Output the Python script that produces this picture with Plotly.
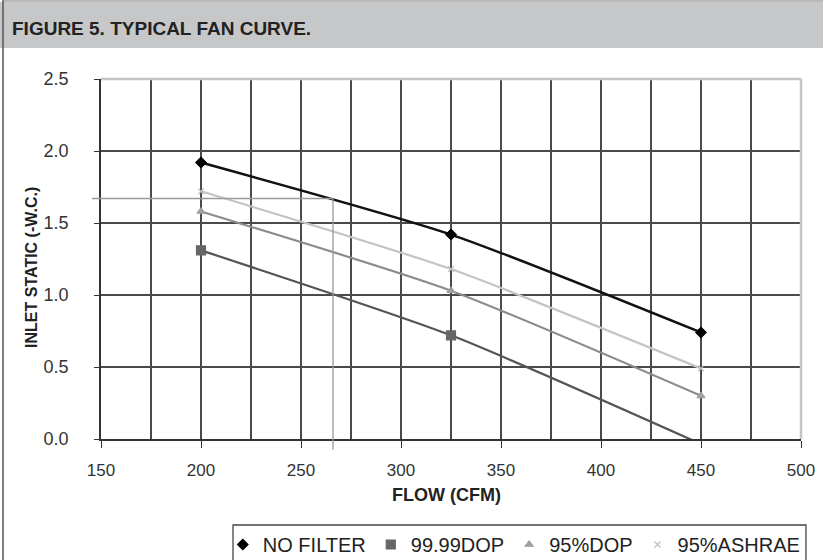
import plotly.graph_objects as go

# ---- data ----
flow = [200, 325, 450]
no_filter = [1.92, 1.42, 0.74]
dop_9999 = [1.31, 0.72, -0.035]
dop_95 = [1.58, 1.03, 0.30]
ashrae_95 = [1.72, 1.18, 0.49]
series_names = ["NO FILTER", "99.99DOP", "95%DOP", "95%ASHRAE"]
op_flow = 266
op_static = 1.67
x_range = [150, 500]
y_range = [0, 2.5]

SANS = "Liberation Sans, Arial, sans-serif"

fig = go.Figure()

styles = [
    dict(color="#111111", width=2.4, symbol="diamond", msize=8, mcolor="#000000"),
    dict(color="#555555", width=2.2, symbol="square", msize=9, mcolor="#666666"),
    dict(color="#8c8c8c", width=2.2, symbol="triangle-up", msize=7, mcolor="#a0a0a0"),
    dict(color="#c4c4c4", width=2.2, symbol="x-thin", msize=6, mcolor="#bdbdbd"),
]
all_series = [no_filter, dop_9999, dop_95, ashrae_95]
for name, ys, st in zip(series_names, all_series, styles):
    fig.add_trace(go.Scatter(
        x=flow, y=ys, name=name, mode="lines", showlegend=False,
        line=dict(color=st["color"], width=st["width"], shape="spline", smoothing=0.6),
        hoverinfo="skip",
    ))
for name, ys, st in zip(series_names, all_series, styles):
    fig.add_trace(go.Scatter(
        x=flow, y=ys, name=name, mode="markers",
        marker=dict(symbol=st["symbol"], size=st["msize"], color=st["mcolor"],
                    line=dict(color=st["mcolor"], width=1.2)),
    ))

fx = (op_flow - x_range[0]) / (x_range[1] - x_range[0])
fy = (op_static - y_range[0]) / (y_range[1] - y_range[0])

shapes = [
    # title band
    dict(type="rect", xref="paper", yref="paper", x0=-0.145, x1=1.04, y0=1.0861, y1=1.2139,
         fillcolor="#c6c7c9", line=dict(width=0), layer="below"),
    # outer frame (left and top)
    dict(type="line", xref="paper", yref="paper", x0=-0.1400, x1=-0.1400, y0=-0.40, y1=1.2194,
         line=dict(color="#555555", width=1.5)),
    dict(type="line", xref="paper", yref="paper", x0=-0.1400, x1=1.04, y0=1.2166, y1=1.2166,
         line=dict(color="#777777", width=1.2)),
    # light top / right plot border
    dict(type="line", xref="x domain", yref="y domain", x0=0, x1=1, y0=1, y1=1,
         line=dict(color="#c4c4c4", width=2.5), layer="above"),
    dict(type="line", xref="x domain", yref="y domain", x0=1, x1=1, y0=0, y1=1,
         line=dict(color="#c4c4c4", width=2.5), layer="above"),
    # operating point lines
    dict(type="line", xref="x domain", yref="y domain", x0=-0.013, x1=fx, y0=fy, y1=fy,
         line=dict(color="#9a9a9a", width=1.3)),
    dict(type="line", xref="x domain", yref="y domain", x0=fx, x1=fx, y0=-0.03, y1=fy,
         line=dict(color="#9a9a9a", width=1.3)),
    # legend box
    dict(type="rect", xref="paper", yref="paper", x0=0.1886, x1=1.0071, y0=-0.45, y1=-0.2389,
         line=dict(color="#444444", width=1.3), fillcolor="rgba(0,0,0,0)"),
]

annotations = [
    dict(text="<b>FIGURE 5. TYPICAL FAN CURVE.</b>", xref="paper", yref="paper",
         x=-0.1300, y=1.1389, xanchor="left", yanchor="middle", showarrow=False,
         font=dict(family=SANS, size=19, color="#222222")),
    dict(text="<b>INLET STATIC (-W.C.)</b>", xref="paper", yref="paper",
         x=-0.0986, y=0.478, textangle=-90, xanchor="center", yanchor="middle",
         showarrow=False, font=dict(family=SANS, size=16, color="#222222")),
    dict(text="<b>FLOW (CFM)</b>", xref="paper", yref="paper",
         x=0.493, y=-0.1556, xanchor="center", yanchor="middle",
         showarrow=False, font=dict(family=SANS, size=18, color="#222222")),
]

fig.update_layout(
    width=823, height=560,
    paper_bgcolor="white", plot_bgcolor="white",
    margin=dict(l=101, r=22, t=79, b=121, autoexpand=False),
    shapes=shapes, annotations=annotations,
    showlegend=True,
    legend=dict(orientation="h", x=0.174, y=-0.2389, xanchor="left", yanchor="top",
                font=dict(family=SANS, size=20, color="#222222"),
                bgcolor="rgba(0,0,0,0)", borderwidth=0, itemwidth=30,
                traceorder="normal"),
    xaxis=dict(range=x_range, tick0=150, dtick=50, showline=True, linecolor="#333333",
               linewidth=1.5, ticks="outside", ticklen=7, tickcolor="#333333", tickwidth=1.3,
               showgrid=True, gridcolor="#4a4a4a", gridwidth=1.5, zeroline=False,
               minor=dict(dtick=25, showgrid=True, gridcolor="#4a4a4a", gridwidth=1.5),
               tickfont=dict(family=SANS, size=17, color="#333333"),
               ticklabelstandoff=8, fixedrange=True),
    yaxis=dict(range=y_range, dtick=0.5, tick0=0, tickformat=".1f", showline=True,
               linecolor="#333333", linewidth=1.5, ticks="outside", ticklen=5,
               tickcolor="#333333", tickwidth=1.3, showgrid=True, gridcolor="#4a4a4a",
               gridwidth=1.5, zeroline=False,
               tickfont=dict(family=SANS, size=18, color="#333333"),
               ticklabelstandoff=22, fixedrange=True),
)

fig.write_html("out.html",
               config={"displayModeBar": False},
               post_script="document.body.style.margin='0';document.body.style.overflow='hidden';")
